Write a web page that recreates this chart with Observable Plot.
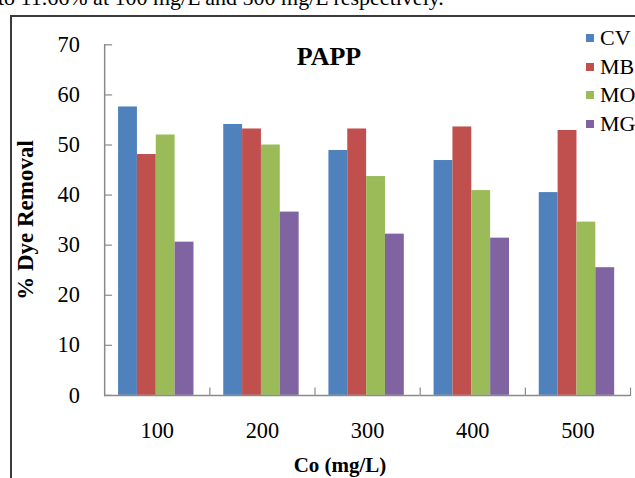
<!DOCTYPE html>
<html><head><meta charset="utf-8">
<script src="https://cdn.jsdelivr.net/npm/d3@7"></script>
<script src="https://cdn.jsdelivr.net/npm/@observablehq/plot@0.6"></script>
<style>
html,body{margin:0;padding:0;background:#fff;overflow:hidden;}
#wrap{position:relative;width:635px;height:478px;overflow:hidden;font-family:"Liberation Serif","Times New Roman",serif;color:#000;}
#wrap svg{position:absolute;left:0;top:0;}
.abs{position:absolute;white-space:nowrap;}
#topline{left:-2px;top:-14.5px;font-size:22px;line-height:24px;}
#box{left:10px;top:15px;width:700px;height:500px;border-left:2px solid #3a3a3a;border-top:2px solid #3a3a3a;}
#title{left:329px;top:42px;transform:translateX(-50%);font-size:26px;font-weight:bold;line-height:30px;}
#ytitle{left:26px;top:220px;transform:translate(-50%,-50%) rotate(-90deg);font-size:23px;font-weight:bold;line-height:24px;}
#xtitle{left:340px;top:453px;transform:translateX(-50%);font-size:21px;font-weight:bold;line-height:24px;}
.leg{position:absolute;left:586px;font-size:22px;line-height:22px;height:22px;}
.leg span.sw{position:absolute;left:0;top:7px;width:8px;height:8px;}
.leg span.tx{position:absolute;left:14px;top:0;}
</style></head><body>
<div id="wrap">
  <div id="box" class="abs"></div>
  <div id="topline" class="abs">to 11.66% at 100 mg/L and 500 mg/L respectively.</div>
</div>
<script>
const co = ["100", "200", "300", "400", "500"];
const dyes = ["CV", "MB", "MO", "MG"];
const cvValues = [57.6, 54.1, 48.9, 46.9, 40.5];
const mbValues = [48.1, 53.2, 53.2, 53.6, 52.9];
const moValues = [52.0, 50.0, 43.7, 40.9, 34.6];
const mgValues = [30.6, 36.6, 32.2, 31.4, 25.5];
const yTicks = [0, 10, 20, 30, 40, 50, 60, 70];
const colors = ["#4F81BD", "#C0504D", "#9BBB59", "#8064A2"];
const titleText = "PAPP";
const yTitle = "% Dye Removal";
const xTitle = "Co (mg/L)";

const series = [cvValues, mbValues, moValues, mgValues];
const data = [];
co.forEach((c, i) => dyes.forEach((d, j) => data.push({co: c, dye: d, value: series[j][i]})));

const axisGray = "#8a8a8a";
const plot = Plot.plot({
  width: 640, height: 478,
  marginLeft: 105, marginRight: 5, marginTop: 44.7, marginBottom: 80,
  style: {fontFamily: "'Liberation Serif', 'Times New Roman', serif", fontSize: "22.5px", color: "#000", background: "transparent", overflow: "visible"},
  fx: {domain: co, padding: 0, label: null},
  x: {domain: dyes, paddingInner: 0, paddingOuter: 0.72, align: 0.45, axis: null},
  y: {domain: [0, 70], label: null},
  color: {domain: dyes, range: colors},
  marks: [
    Plot.barY(data, {fx: "co", x: "dye", y: "value", fill: "dye"}),
    Plot.ruleY([0], {stroke: axisGray, strokeWidth: 1.5}),
    Plot.frame({anchor: "right", stroke: axisGray, strokeWidth: 1.2, insetTop: 346}),
    Plot.frame({anchor: "left", fx: "100", stroke: axisGray, strokeWidth: 1.5}),
    Plot.axisY(yTicks, {tickSize: 0, tickPadding: 25, fill: "#000", stroke: "none", fontSize: 22.5}),
    Plot.axisY(yTicks, {tickSize: -8, fill: "none", stroke: axisGray, strokeWidth: 1.2}),
    Plot.axisFx({anchor: "bottom", tickSize: 0, tickPadding: 27, fill: "#000", fontSize: 22.5})
  ]
});
const wrap = document.getElementById("wrap");
wrap.appendChild(plot);

function addDiv(id, text) {
  const d = document.createElement("div");
  d.id = id; d.className = "abs"; d.textContent = text;
  wrap.appendChild(d);
}
addDiv("title", titleText);
addDiv("ytitle", yTitle);
addDiv("xtitle", xTitle);

const legTops = [27, 55.5, 84, 112.5];
dyes.forEach((d, i) => {
  const row = document.createElement("div");
  row.className = "leg";
  row.style.top = legTops[i] + "px";
  const sw = document.createElement("span");
  sw.className = "sw"; sw.style.background = colors[i];
  const tx = document.createElement("span");
  tx.className = "tx"; tx.textContent = d;
  row.appendChild(sw); row.appendChild(tx);
  wrap.appendChild(row);
});
</script>
</body></html>
